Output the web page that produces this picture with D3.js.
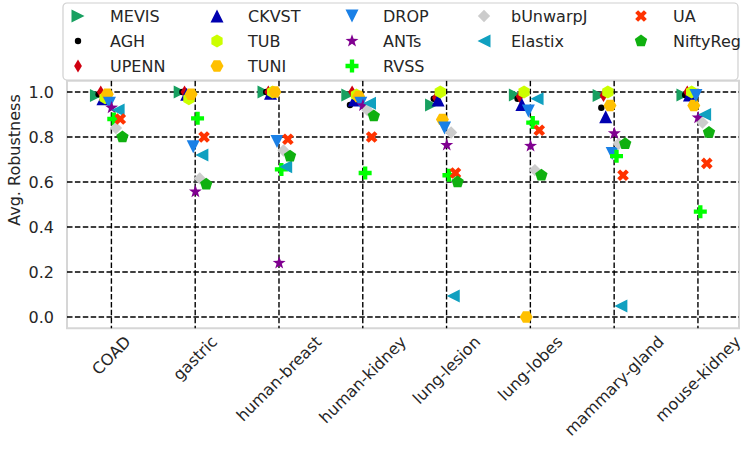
<!DOCTYPE html>
<html><head><meta charset="utf-8">
<script src="https://cdn.jsdelivr.net/npm/d3@7"></script>
<style>body{margin:0;background:#fff}svg{display:block}text{font-family:"DejaVu Sans",sans-serif;fill:#262626}</style>
</head><body><svg id="c" width="750" height="451"></svg>
<script>
const categories = ["COAD","gastric","human-breast","human-kidney","lung-lesion","lung-lobes","mammary-gland","mouse-kidney"];
const methods  = ["MEVIS","AGH","UPENN","CKVST","TUB","TUNI","DROP","ANTs","RVSS","bUnwarpJ","Elastix","UA","NiftyReg"];
const colors   = ["#18a060","#000000","#d00010","#0000b0","#ccff00","#ffc000","#1a80e6","#800090","#00ff00","#cccccc","#10a0c0","#ff3300","#10b010"];
const shapes   = [">",".","d","^","h","H","v","*","P","D","<","X","p"];
const MEVIS    = [0.984,1.0,1.0,0.987,0.942,0.987,0.984,0.987];
const AGH      = [0.99,1.0,1.0,0.942,0.97,0.97,0.93,0.987];
const UPENN    = [1.0,1.0,1.0,1.0,0.975,0.98,0.984,1.0];
const CKVST    = [0.97,0.99,0.995,0.965,0.965,0.945,0.89,0.987];
const TUB      = [0.975,0.97,1.0,0.987,1.0,1.0,1.0,1.0];
const TUNI     = [0.99,0.99,1.0,0.98,0.878,0.0,0.94,0.94];
const DROP     = [0.95,0.757,0.78,0.95,0.84,0.916,0.727,0.984];
const ANTs     = [0.93,0.557,0.24,0.94,0.764,0.76,0.816,0.886];
const RVSS     = [0.88,0.883,0.656,0.64,0.63,0.864,0.715,0.468];
const bUnwarpJ = [0.84,0.616,0.74,0.92,0.82,0.653,0.77,0.864];
const Elastix  = [0.92,0.72,0.668,0.95,0.093,0.97,0.049,0.90];
const UA       = [0.88,0.80,0.79,0.80,0.64,0.83,0.63,0.683];
const NiftyReg = [0.80,0.59,0.715,0.893,0.60,0.63,0.77,0.82];
const yTicks   = [0.0,0.2,0.4,0.6,0.8,1.0];
const series = [MEVIS,AGH,UPENN,CKVST,TUB,TUNI,DROP,ANTs,RVSS,bUnwarpJ,Elastix,UA,NiftyReg];

const svg = d3.select("#c");
const L = 67, R = 739, T = 80.75, B = 328.25;
const x = d3.scaleLinear().domain([-0.53, 7.49]).range([L, R]);
const y = d3.scaleLinear().domain([-0.05, 1.05]).range([B, T]);

function poly(n, r, rot){ const p=[]; for(let k=0;k<n;k++){const a=rot+k*2*Math.PI/n; p.push([r*Math.sin(a), -r*Math.cos(a)]);} return p; }
function pts(p){ return "M"+p.map(d=>d[0].toFixed(2)+","+d[1].toFixed(2)).join("L")+"Z"; }
function markerPath(s, S){
  const h=S/2;
  switch(s){
    case ">": return pts([[h,0],[-h,-h],[-h,h]]);
    case "<": return pts([[-h,0],[h,-h],[h,h]]);
    case "^": return pts([[0,-h],[h,h],[-h,h]]);
    case "v": return pts([[0,h],[h,-h],[-h,-h]]);
    case ".": return d3.symbol(d3.symbolCircle, Math.PI*3.2*3.2)();
    case "d": return pts([[0,-h],[h*0.6,0],[0,h],[-h*0.6,0]]);
    case "D": return pts([[0,-h*0.95],[h*0.95,0],[0,h*0.95],[-h*0.95,0]]);
    case "h": return pts(poly(6,h,0));
    case "H": return pts(poly(6,h,Math.PI/6));
    case "p": return pts(poly(5,h,0));
    case "*": { const p=[]; for(let k=0;k<10;k++){const r=k%2?h*0.42:h*1.05; const a=k*Math.PI/5; p.push([r*Math.sin(a),-r*Math.cos(a)]);} return pts(p); }
    case "P": { const a=h/3; return pts([[-a,-h],[a,-h],[a,-a],[h,-a],[h,a],[a,a],[a,h],[-a,h],[-a,a],[-h,a],[-h,-a],[-a,-a]]); }
    case "X": { const a=h/3, q=[[-a,-h],[a,-h],[a,-a],[h,-a],[h,a],[a,a],[a,h],[-a,h],[-a,a],[-h,a],[-h,-a],[-a,-a]];
      const c=Math.SQRT1_2; return pts(q.map(([u,v])=>[(u-v)*c*0.95,(u+v)*c*0.95])); }
  }
}
const S = 13;

// frame
svg.append("rect").attr("x",L).attr("y",T).attr("width",R-L).attr("height",B-T)
  .attr("fill","#fff").attr("stroke","#d6d6d6").attr("stroke-width",2);

// grid
const g = svg.append("g");
yTicks.forEach(t=>g.append("line").attr("x1",L).attr("x2",R).attr("y1",y(t)).attr("y2",y(t))
  .attr("stroke","#000").attr("stroke-width",1.4).attr("stroke-dasharray","5.5,2.4"));
categories.forEach((c,i)=>g.append("line").attr("x1",x(i)).attr("x2",x(i)).attr("y1",T).attr("y2",B)
  .attr("stroke","#000").attr("stroke-width",1.4).attr("stroke-dasharray","5.5,2.4"));

// y tick labels
yTicks.forEach(t=>svg.append("text").attr("x",54).attr("y",y(t)).attr("dy","0.36em")
  .attr("text-anchor","end").attr("font-size",16).text(t.toFixed(1)));
svg.append("text").attr("transform",`translate(14,160) rotate(-90)`).attr("text-anchor","middle")
  .attr("dy","0.36em").attr("font-size",16).text("Avg. Robustness");

// x tick labels rotated 45
categories.forEach((c,i)=>{
  const t = svg.append("text").attr("font-size",16).attr("text-anchor","middle").attr("dominant-baseline","central").text(c);
  const w = t.node().getComputedTextLength(), hh = 17;
  const half = (w+hh)/(2*Math.SQRT2);
  t.attr("transform",`translate(${x(i)},${333+half}) rotate(-45)`);
});

// points
const pg = svg.append("g");
series.forEach((vals,m)=>{
  const off = -0.179 + m*0.0259;
  pg.selectAll(null).data(vals).enter().append("path")
    .attr("d", markerPath(shapes[m], S))
    .attr("transform",(v,i)=>`translate(${x(i+off)},${y(v)})`)
    .attr("fill",colors[m]);
});

// legend (5 columns, column-major, sizes 3,3,3,2,2)
const lg = svg.append("g");
lg.append("rect").attr("x",63).attr("y",3).attr("width",675).attr("height",77).attr("rx",4)
  .attr("fill","#fff").attr("fill-opacity",0.9).attr("stroke","#d0d0d0").attr("stroke-width",1.2);
const colM = [78,217,352,484,641], colT = [110,248,383,511,673], rowY = [16,41,66];
const colStart = [0,3,6,9,11];
methods.forEach((m,i)=>{
  let c = 0; for(let k=0;k<colStart.length;k++) if(i>=colStart[k]) c=k;
  const r = i - colStart[c];
  lg.append("path").attr("d",markerPath(shapes[i],S)).attr("fill",colors[i])
    .attr("transform",`translate(${colM[c]},${rowY[r]})`);
  lg.append("text").attr("x",colT[c]).attr("y",rowY[r]).attr("dy","0.36em").attr("font-size",16).text(m);
});
</script></body></html>
